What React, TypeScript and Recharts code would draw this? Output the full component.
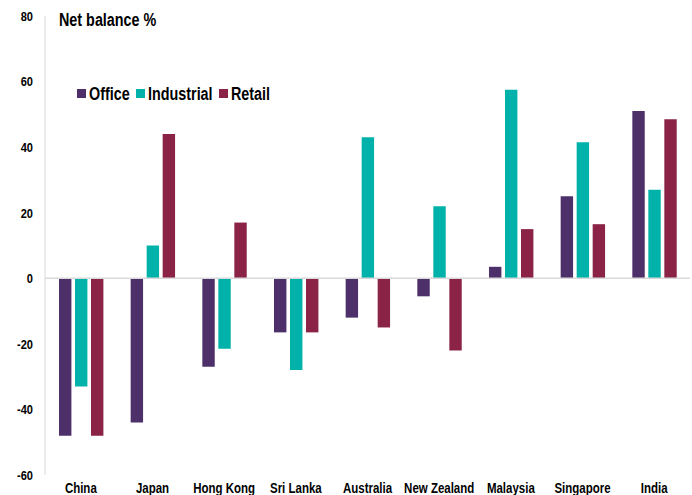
import React from 'react';
import { BarChart, Bar, XAxis, YAxis, ReferenceLine } from 'recharts';

const markets = ['China', 'Japan', 'Hong Kong', 'Sri Lanka', 'Australia', 'New Zealand', 'Malaysia', 'Singapore', 'India'];
const office = [-48, -44, -27, -16.5, -12, -5.5, 3.5, 25, 51];
const industrial = [-33, 10, -21.5, -28, 43, 22, 57.5, 41.5, 27];
const retail = [-48, 44, 17, -16.5, -15, -22, 15, 16.5, 48.5];
const yTicks = [-60, -40, -20, 0, 20, 40, 60, 80];

const series = [
  { key: 'office', name: 'Office', color: '#4d2f6a' },
  { key: 'industrial', name: 'Industrial', color: '#00b2a9' },
  { key: 'retail', name: 'Retail', color: '#8a2346' },
];

// left edge of each legend swatch
const legendX = [77, 136, 219];

const data = markets.map((market, i) => ({
  market,
  office: office[i],
  industrial: industrial[i],
  retail: retail[i],
}));

const FONT = '"Liberation Sans", Arial, sans-serif';
const SQUEEZE = 0.82; // the source text is set in a narrow face

function XTick({ x, y, payload }: any) {
  return (
    <g transform={`translate(${x},${y})`}>
      <text transform={`scale(${SQUEEZE},1)`} textAnchor="middle" dy="0.71em" fontFamily={FONT} fontWeight={700} fontSize={14} fill="#000">
        {payload.value}
      </text>
    </g>
  );
}

function YTick({ x, y, payload }: any) {
  return (
    <g transform={`translate(${x},${y})`}>
      <text transform={`scale(${SQUEEZE},1)`} textAnchor="end" dy="0.355em" fontFamily={FONT} fontWeight={700} fontSize={13.5} fill="#000">
        {payload.value}
      </text>
    </g>
  );
}

const overlayText: React.CSSProperties = {
  position: 'absolute',
  fontFamily: FONT,
  fontWeight: 700,
  color: '#000',
  lineHeight: 1,
  whiteSpace: 'nowrap',
  transformOrigin: 'left center',
  transform: `scaleX(${SQUEEZE})`,
  zIndex: 2,
};

export default function App() {
  return (
    <div style={{ position: 'absolute', left: 0, top: 0, width: 692, height: 495, background: '#fff' }}>
      <div style={{ ...overlayText, left: 59, top: 12, fontSize: 17.5 }}>Net balance %</div>
      {series.map((s, i) => (
        <React.Fragment key={s.key}>
          <span
            style={{
              position: 'absolute',
              left: legendX[i],
              top: 89,
              width: 8.5,
              height: 8.5,
              background: s.color,
              zIndex: 2,
            }}
          />
          <span style={{ ...overlayText, left: legendX[i] + 11.5, top: 85.5, fontSize: 17.5 }}>{s.name}</span>
        </React.Fragment>
      ))}
      <BarChart
        width={692}
        height={495}
        data={data}
        margin={{ top: 16, right: 2, bottom: 0, left: 0 }}
        barSize={12.4}
        barGap={3.6}
      >
        <XAxis dataKey="market" axisLine={false} tickLine={false} height={20} interval={0} tick={<XTick />} />
        <YAxis
          domain={[-60, 80]}
          ticks={yTicks}
          width={45}
          tickLine={false}
          tickSize={10}
          tickMargin={2}
          axisLine={{ stroke: '#d9d9d9', strokeWidth: 1 }}
          tick={<YTick />}
        />
        <ReferenceLine y={0} stroke="#d9d9d9" strokeWidth={1.5} />
        {series.map((s) => (
          <Bar key={s.key} dataKey={s.key} name={s.name} fill={s.color} isAnimationActive={false} />
        ))}
      </BarChart>
    </div>
  );
}
